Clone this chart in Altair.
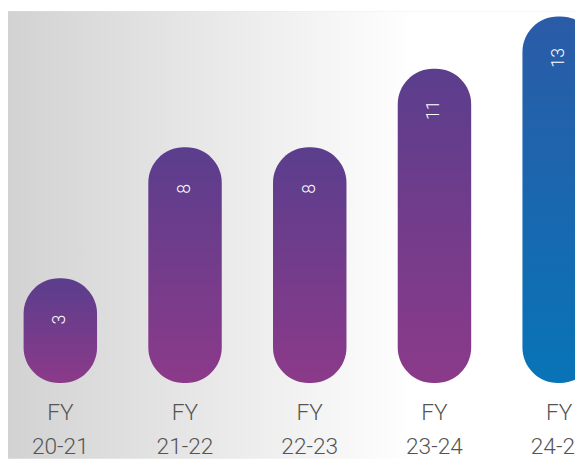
import altair as alt
import pandas as pd

years = ["FY 20-21", "FY 21-22", "FY 22-23", "FY 23-24", "FY 24-25"]
values = [3, 8, 8, 11, 13]

df = pd.DataFrame({"year": years, "value": values})
bg_df = pd.DataFrame({"a": [0]})

FONT = "Roboto"

purple = alt.Gradient(
    gradient="linear",
    stops=[alt.GradientStop(color="#5a3e8d", offset=0),
           alt.GradientStop(color="#8b3a89", offset=1)],
    x1=0, x2=0, y1=0, y2=1,
)
blue = alt.Gradient(
    gradient="linear",
    stops=[alt.GradientStop(color="#2b5ba7", offset=0),
           alt.GradientStop(color="#0874b7", offset=1)],
    x1=0, x2=0, y1=0, y2=1,
)
bg_grad = alt.Gradient(
    gradient="linear",
    stops=[alt.GradientStop(color="#d2d2d2", offset=0),
           alt.GradientStop(color="#ffffff", offset=0.72),
           alt.GradientStop(color="#ffffff", offset=1)],
    x1=0, x2=1, y1=0, y2=0,
)

BASE = -1

x_enc = alt.X(
    "year:N",
    sort=years,
    title=None,
    scale=alt.Scale(range=[0, 612], paddingInner=0.411, paddingOuter=0.125),
    axis=alt.Axis(
        domain=False, ticks=False, grid=False,
        labelExpr="split(datum.label, ' ')",
        labelFont=FONT, labelFontSize=23, labelFontWeight=300,
        labelColor="#555555", labelLineHeight=35, labelPadding=19,
        labelAngle=0, zindex=2,
    ),
)
y_enc = alt.Y(
    "value:Q",
    scale=alt.Scale(domain=[BASE, 13.2], nice=False, zero=False),
    axis=None,
)

background = alt.Chart(bg_df).mark_rect(color=bg_grad).encode(
    x=alt.value(0), x2=alt.value(575), y=alt.value(0), y2=alt.value(454)
)

bars_p = alt.Chart(df).transform_filter(
    alt.datum.year != "FY 24-25"
).mark_bar(color=purple, cornerRadius=36).encode(
    x=x_enc, y=y_enc, y2=alt.datum(BASE)
)
bars_b = alt.Chart(df).transform_filter(
    alt.datum.year == "FY 24-25"
).mark_bar(color=blue, cornerRadius=36).encode(
    x=x_enc, y=y_enc, y2=alt.datum(BASE)
)
labels = alt.Chart(df).mark_text(
    angle=270, dx=-42, align="center", baseline="middle",
    color="white", font=FONT, fontSize=18, fontWeight=300,
).encode(x=x_enc, y=y_enc, text="value:Q")

chart = alt.layer(background, bars_p, bars_b, labels).properties(
    width=575, height=377,
    autosize=alt.AutoSizeParams(type="none"),
    padding={"left": 0, "top": 0, "right": 0, "bottom": 77},
).configure_view(stroke=None).configure(background="white")

chart.save("out.html", embed_options={"renderer": "svg", "actions": False})
